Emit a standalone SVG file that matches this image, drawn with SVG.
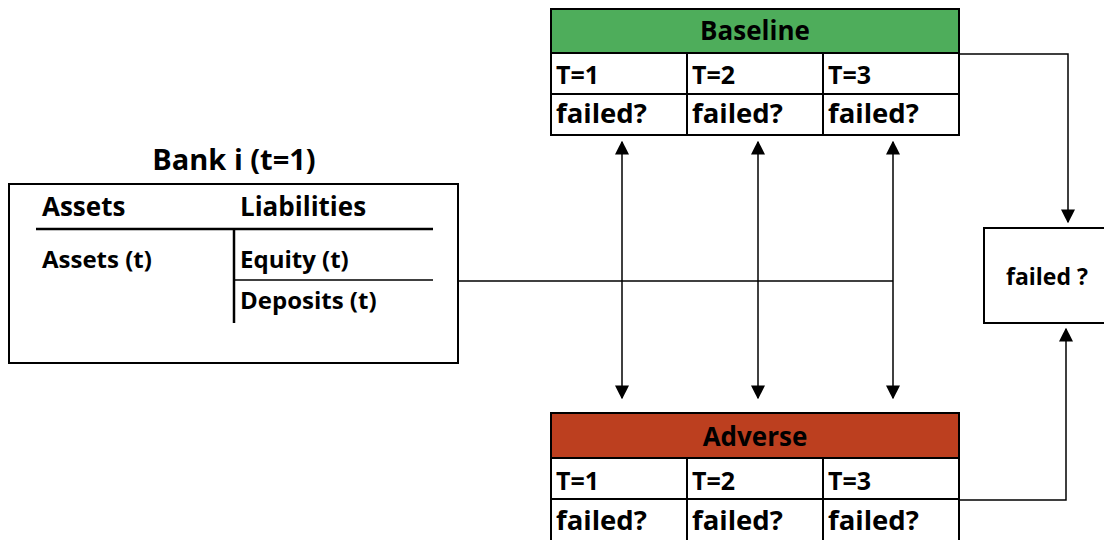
<svg xmlns="http://www.w3.org/2000/svg" width="1104" height="540" viewBox="0 0 1104 540">
<style>
text{font-family:"Open Sans","Liberation Sans",sans-serif;font-weight:bold;fill:#000}
.cell{fill:#fff;stroke:#000;stroke-width:2}
.t{font-size:25px}
.f{font-size:27.5px}
.h{font-size:26px;text-anchor:middle}
.b{font-size:24px}
.conn{fill:none;stroke:#000;stroke-width:1.5}
.rule{stroke:#000;stroke-width:2.5}
</style>
<defs>
<marker id="ah" viewBox="0 0 10 10" refX="9" refY="5" markerWidth="14" markerHeight="14" markerUnits="userSpaceOnUse" orient="auto-start-reverse">
<path d="M0,0 L10,5 L0,10 z" fill="#000"/>
</marker>
</defs>
<rect width="1104" height="540" fill="#fff"/>

<g id="bank">
<text x="234" y="170" class="h" style="font-size:29px">Bank i (t=1)</text>
<rect x="9" y="184" width="449" height="179" class="cell"/>
<line x1="36" y1="229" x2="433" y2="229" class="rule"/>
<line x1="234" y1="229" x2="234" y2="323" class="rule"/>
<line x1="234" y1="280" x2="433" y2="280" stroke="#000" stroke-width="1.5"/>
<text x="42" y="216" style="font-size:26px">Assets</text>
<text x="240" y="216" style="font-size:26px">Liabilities</text>
<text x="42" y="268" class="b">Assets (t)</text>
<text x="240" y="268" class="b">Equity (t)</text>
<text x="240" y="309" class="b">Deposits (t)</text>
</g>

<g id="baseline">
<rect x="551" y="9" width="408" height="44" fill="#4EAD5B" stroke="#000" stroke-width="2"/>
<text x="755" y="40" class="h">Baseline</text>
<rect x="551" y="53" width="136" height="41" class="cell"/>
<rect x="687" y="53" width="136" height="41" class="cell"/>
<rect x="823" y="53" width="136" height="41" class="cell"/>
<rect x="551" y="94" width="136" height="41" class="cell"/>
<rect x="687" y="94" width="136" height="41" class="cell"/>
<rect x="823" y="94" width="136" height="41" class="cell"/>
<text x="556" y="84" class="t">T=1</text>
<text x="692" y="84" class="t">T=2</text>
<text x="828" y="84" class="t">T=3</text>
<text x="556" y="123" class="f">failed?</text>
<text x="692" y="123" class="f">failed?</text>
<text x="828" y="123" class="f">failed?</text>
</g>

<g id="adverse">
<rect x="551" y="413" width="408" height="45" fill="#BC3F1F" stroke="#000" stroke-width="2"/>
<text x="755" y="446" class="h">Adverse</text>
<rect x="551" y="458" width="136" height="41" class="cell"/>
<rect x="687" y="458" width="136" height="41" class="cell"/>
<rect x="823" y="458" width="136" height="41" class="cell"/>
<rect x="551" y="499" width="136" height="43" class="cell"/>
<rect x="687" y="499" width="136" height="43" class="cell"/>
<rect x="823" y="499" width="136" height="43" class="cell"/>
<text x="556" y="490" class="t">T=1</text>
<text x="692" y="490" class="t">T=2</text>
<text x="828" y="490" class="t">T=3</text>
<text x="556" y="530" class="f">failed?</text>
<text x="692" y="530" class="f">failed?</text>
<text x="828" y="530" class="f">failed?</text>
</g>

<g id="result">
<rect x="984" y="228" width="130" height="95" class="cell"/>
<text x="1047" y="285" class="h" style="font-size:23px">failed ?</text>
</g>

<g id="connectors">
<line x1="458" y1="281" x2="893" y2="281" class="conn"/>
<line x1="622" y1="142" x2="622" y2="398" class="conn" marker-start="url(#ah)" marker-end="url(#ah)"/>
<line x1="758" y1="142" x2="758" y2="398" class="conn" marker-start="url(#ah)" marker-end="url(#ah)"/>
<line x1="893" y1="142" x2="893" y2="398" class="conn" marker-start="url(#ah)" marker-end="url(#ah)"/>
<polyline points="959,54 1068,54 1068,222" class="conn" marker-end="url(#ah)"/>
<polyline points="959,500 1066,500 1066,329" class="conn" marker-end="url(#ah)"/>
</g>
</svg>
